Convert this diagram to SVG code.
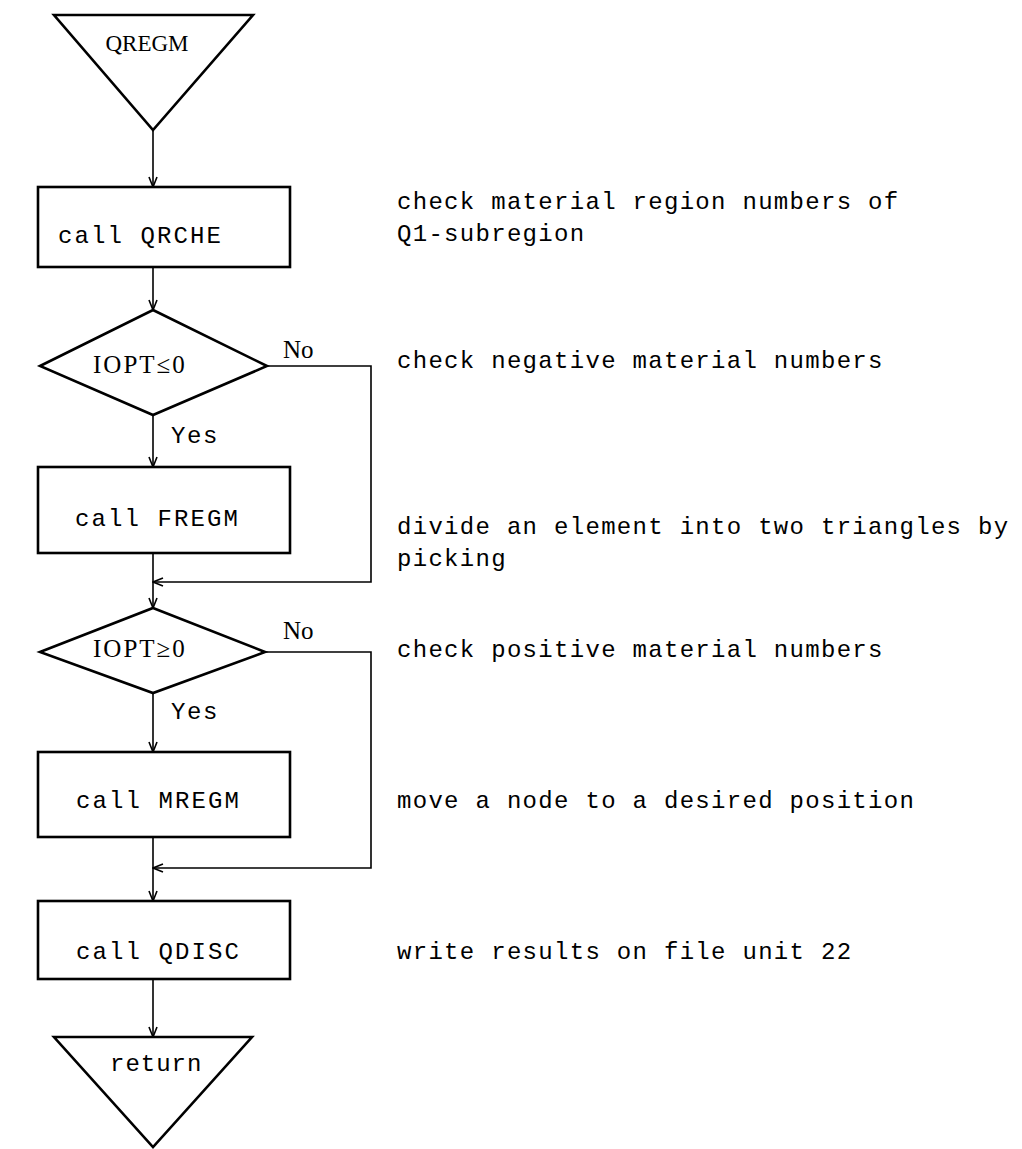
<svg xmlns="http://www.w3.org/2000/svg" width="1022" height="1149" viewBox="0 0 1022 1149">
  <style>
    .shape { fill: #ffffff; stroke: #000000; stroke-width: 2.6; stroke-linejoin: miter; }
    .wire { fill: none; stroke: #000000; stroke-width: 1.6; }
    .serif { font-family: "Liberation Serif", "Times New Roman", serif; fill: #000000; }
    .mono { font-family: "Liberation Mono", "Courier New", monospace; fill: #000000; font-size: 24px; }
    .lbl { letter-spacing: 2.1px; }
    .note { letter-spacing: 1.3px; }
  </style>
  <defs>
    <marker id="vee" markerWidth="12" markerHeight="10" refX="11" refY="5" orient="auto" markerUnits="userSpaceOnUse">
      <path d="M1,1 L11,5 L1,9" fill="none" stroke="#000000" stroke-width="1.6"/>
    </marker>
  </defs>

  <!-- entry point -->
  <g id="start">
    <polygon class="shape" points="54,15 253,15 153,130"/>
    <text class="serif" x="147" y="51" font-size="23" text-anchor="middle">QREGM</text>
  </g>

  <g id="qrche">
    <rect class="shape" x="38" y="187" width="252" height="80"/>
    <text class="mono lbl" x="58" y="243">call QRCHE</text>
  </g>

  <g id="test-neg">
    <polygon class="shape" points="153,310 267,366 153,415 40,366"/>
    <text class="serif" x="93" y="373" font-size="25" letter-spacing="2">IOPT≤0</text>
  </g>

  <g id="fregm">
    <rect class="shape" x="38" y="467" width="252" height="86"/>
    <text class="mono lbl" x="75" y="526">call FREGM</text>
  </g>

  <g id="test-pos">
    <polygon class="shape" points="153,608 265,652 153,693 40,652"/>
    <text class="serif" x="93" y="657" font-size="25" letter-spacing="2">IOPT≥0</text>
  </g>

  <g id="mregm">
    <rect class="shape" x="38" y="752" width="252" height="85"/>
    <text class="mono lbl" x="76" y="808">call MREGM</text>
  </g>

  <g id="qdisc">
    <rect class="shape" x="38" y="901" width="252" height="78"/>
    <text class="mono lbl" x="76" y="959">call QDISC</text>
  </g>

  <!-- exit point -->
  <g id="end">
    <polygon class="shape" points="54,1037 252,1037 153,1147"/>
    <text class="mono" x="110" y="1071" letter-spacing="1">return</text>
  </g>

  <!-- flow lines -->
  <g id="connectors">
    <line class="wire" x1="153" y1="130" x2="153" y2="187" marker-end="url(#vee)"/>
    <line class="wire" x1="153" y1="267" x2="153" y2="310" marker-end="url(#vee)"/>
    <line class="wire" x1="153" y1="415" x2="153" y2="467" marker-end="url(#vee)"/>
    <polyline class="wire" points="267,366 371,366 371,582 153,582" marker-end="url(#vee)"/>
    <line class="wire" x1="153" y1="553" x2="153" y2="608" marker-end="url(#vee)"/>
    <line class="wire" x1="153" y1="693" x2="153" y2="752" marker-end="url(#vee)"/>
    <polyline class="wire" points="265,652 371,652 371,868 153,868" marker-end="url(#vee)"/>
    <line class="wire" x1="153" y1="837" x2="153" y2="901" marker-end="url(#vee)"/>
    <line class="wire" x1="153" y1="979" x2="153" y2="1037" marker-end="url(#vee)"/>
    <text class="serif" x="283" y="358" font-size="25">No</text>
    <text class="mono" x="171" y="443" letter-spacing="1.6">Yes</text>
    <text class="serif" x="283" y="639" font-size="25">No</text>
    <text class="mono" x="171" y="719" letter-spacing="1.6">Yes</text>
  </g>

  <!-- remarks -->
  <g id="notes">
    <text class="mono note" x="397" y="209">check material region numbers of</text>
    <text class="mono note" x="397" y="241">Q1-subregion</text>
    <text class="mono note" x="397" y="368">check negative material numbers</text>
    <text class="mono note" x="397" y="534">divide an element into two triangles by</text>
    <text class="mono note" x="397" y="566">picking</text>
    <text class="mono note" x="397" y="657">check positive material numbers</text>
    <text class="mono note" x="397" y="808">move a node to a desired position</text>
    <text class="mono note" x="397" y="959">write results on file unit 22</text>
  </g>
</svg>
